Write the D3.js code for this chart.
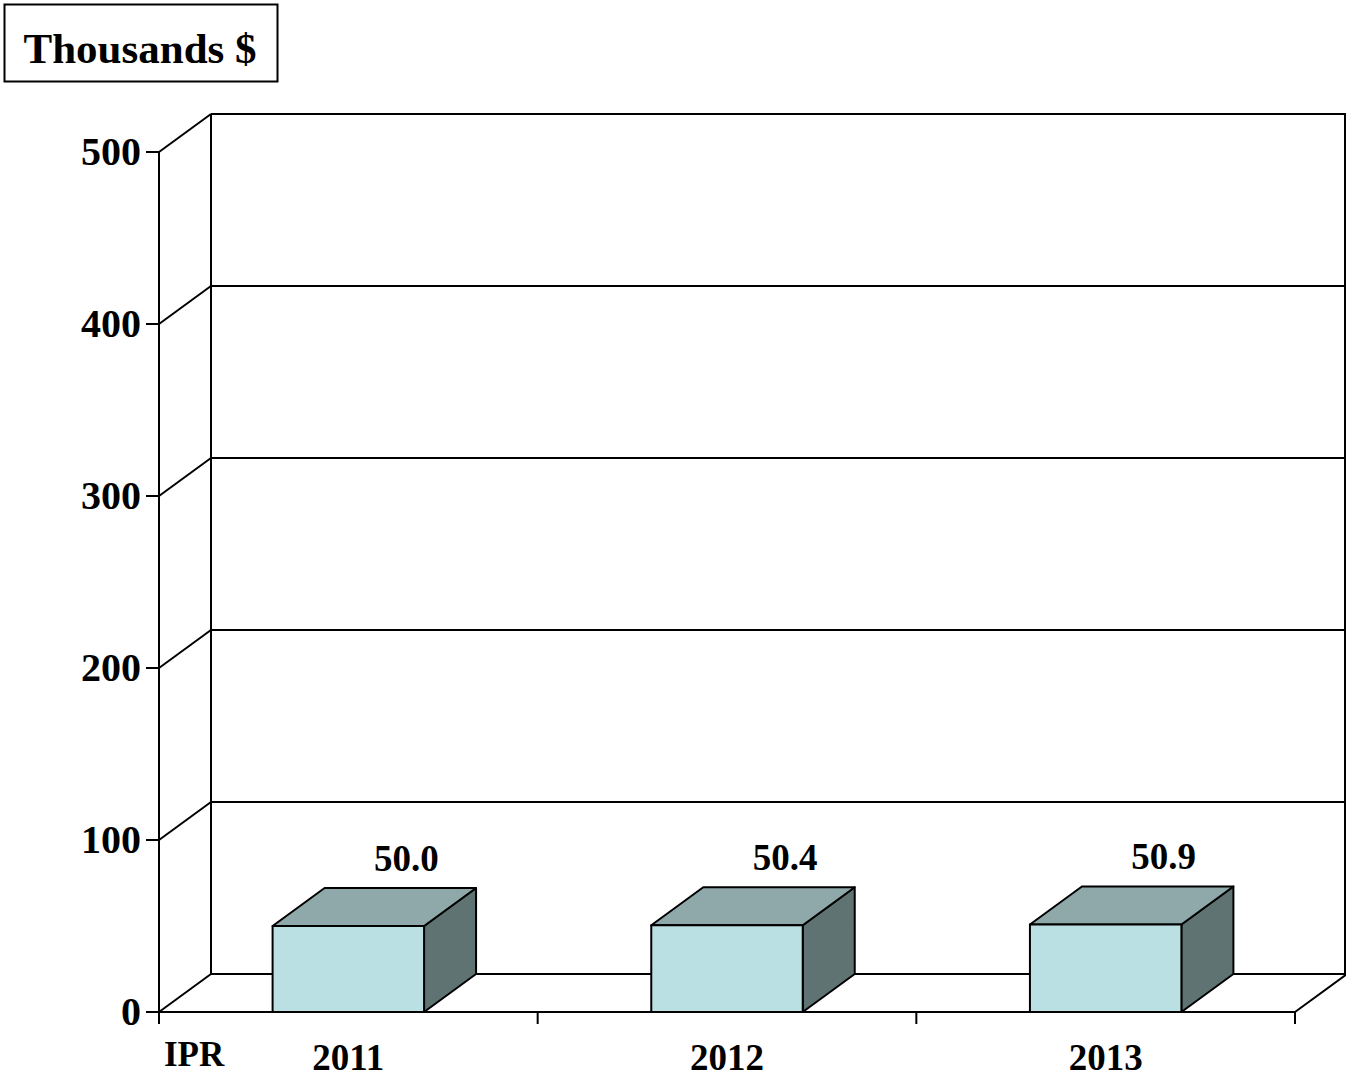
<!DOCTYPE html>
<html><head><meta charset="utf-8">
<script src="https://cdn.jsdelivr.net/npm/d3@7"></script>
<style>body{margin:0;background:#fff}svg{display:block}</style>
</head><body>
<script>
const categories = ["2011", "2012", "2013"];
const values = [50.0, 50.4, 50.9];
const valueLabels = ["50.0", "50.4", "50.9"];
const yTicks = [0, 100, 200, 300, 400, 500];
const unitLabel = "Thousands $";
const seriesLabel = "IPR";

const W = 1346, H = 1079;
const DX = 52, DY = 38;
const font = "'Liberation Serif','Times New Roman',serif";
const svg = d3.select("body").append("svg").attr("width", W).attr("height", H);

const y = d3.scaleLinear().domain([0, 500]).range([1012, 152]);
const x = d3.scaleBand().domain(categories).range([159, 1295]).paddingInner(0.6).paddingOuter(0.3);
const x0 = 159, x1 = 1295;

const g = svg.append("g").attr("stroke", "#000").attr("stroke-width", 2).attr("fill", "none");

yTicks.forEach(t => {
  if (t > 0) g.append("line").attr("x1", x0 + DX).attr("x2", W + 2).attr("y1", y(t) - DY).attr("y2", y(t) - DY);
  g.append("line").attr("x1", x0).attr("y1", y(t)).attr("x2", x0 + DX).attr("y2", y(t) - DY);
});
g.append("line").attr("x1", x0 + DX).attr("x2", x0 + DX).attr("y1", y(500) - DY).attr("y2", y(0) - DY);
g.append("line").attr("x1", W - 1).attr("x2", W - 1).attr("y1", y(500) - DY).attr("y2", y(0) - DY);
g.append("line").attr("x1", x0 + DX).attr("x2", W + 2).attr("y1", y(0) - DY).attr("y2", y(0) - DY);
g.append("line").attr("x1", x1).attr("y1", y(0)).attr("x2", x1 + DX).attr("y2", y(0) - DY);

const bars = svg.append("g").attr("stroke", "#000").attr("stroke-width", 2).attr("stroke-linejoin", "round");
categories.forEach((c, i) => {
  const bx = x(c), bw = x.bandwidth(), top = y(values[i]), bot = y(0);
  bars.append("path").attr("fill", "#5F7373")
    .attr("d", `M${bx+bw},${top}L${bx+bw+DX},${top-DY}L${bx+bw+DX},${bot-DY}L${bx+bw},${bot}Z`);
  bars.append("path").attr("fill", "#8FA9AA")
    .attr("d", `M${bx},${top}L${bx+DX},${top-DY}L${bx+bw+DX},${top-DY}L${bx+bw},${top}Z`);
  bars.append("rect").attr("fill", "#BBE0E3").attr("x", bx).attr("y", top).attr("width", bw).attr("height", bot - top);
  svg.append("text").attr("x", bx + bw / 2 + DX + 6).attr("y", top - DY - 17)
    .attr("text-anchor", "middle").attr("font-family", font).attr("font-weight", "bold").attr("font-size", 37)
    .text(valueLabels[i]);
});

const ax = svg.append("g").attr("stroke", "#000").attr("stroke-width", 2);
ax.append("line").attr("x1", x0).attr("x2", x0).attr("y1", y(500)).attr("y2", y(0) + 12);
ax.append("line").attr("x1", x0).attr("x2", x1).attr("y1", y(0)).attr("y2", y(0));
yTicks.forEach(t => ax.append("line").attr("x1", x0 - 13).attr("x2", x0).attr("y1", y(t)).attr("y2", y(t)));
categories.forEach(c => {
  const e = x(c) + x.bandwidth() / 2 + x.step() / 2;
  ax.append("line").attr("x1", e).attr("x2", e).attr("y1", y(0)).attr("y2", y(0) + 12);
});

svg.append("g").selectAll("text").data(yTicks).join("text")
  .attr("x", 141).attr("y", d => y(d) + 13).attr("text-anchor", "end")
  .attr("font-family", font).attr("font-weight", "bold").attr("font-size", 40).text(d => d);

svg.append("g").selectAll("text").data(categories).join("text")
  .attr("x", d => x(d) + x.bandwidth() / 2).attr("y", 1070).attr("text-anchor", "middle")
  .attr("font-family", font).attr("font-weight", "bold").attr("font-size", 37).text(d => d);

svg.append("text").attr("x", 164).attr("y", 1066).attr("font-family", font).attr("font-weight", "bold")
  .attr("font-size", 35).text(seriesLabel);

svg.append("rect").attr("x", 4.5).attr("y", 4.5).attr("width", 273).attr("height", 77)
  .attr("fill", "#fff").attr("stroke", "#000").attr("stroke-width", 2);
svg.append("text").attr("x", 140).attr("y", 63).attr("text-anchor", "middle")
  .attr("font-family", font).attr("font-weight", "bold").attr("font-size", 43).text(unitLabel);
</script>
</body></html>
